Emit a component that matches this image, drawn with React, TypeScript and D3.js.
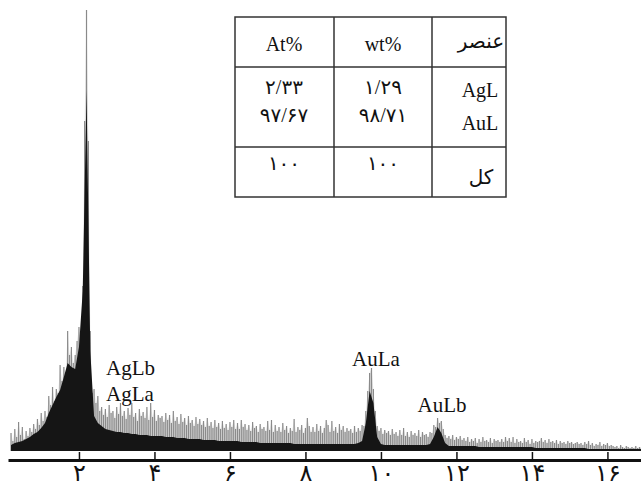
import React, { useEffect, useRef } from "react";
import * as d3 from "d3";

// energy axis (keV) and its Persian tick labels
const tickValues = [2, 4, 6, 8, 10, 12, 14, 16];
const tickLabels = ["۲", "۴", "۶", "۸", "۱۰", "۱۲", "۱۴", "۱۶"];

// spectrum channels start at 0.2 keV
const startKeV = 0.2;
const topStep = 0.05;
const bodyStep = 0.1;

// light grey spikes (upper envelope), one value per 0.05 keV
const topCounts = [
  18, 10, 22, 14, 29, 16, 24, 12, 20, 15, 23, 19, 27, 22, 32, 26, 38, 30, 40, 34,
  55, 46, 64, 50, 62, 58, 86, 70, 84, 76, 120, 96, 104, 88, 96, 110, 124, 115, 165, 330,
  441, 310, 120, 58, 62, 48, 55, 40, 44, 36, 42, 34, 46, 38, 40, 33, 44, 37, 48, 35,
  40, 32, 43, 36, 48, 34, 38, 30, 42, 35, 39, 33, 44, 31, 48, 34, 41, 30, 36, 33,
  35, 29, 38, 31, 36, 28, 40, 30, 34, 27, 37, 29, 33, 26, 35, 28, 31, 25, 34, 27,
  32, 26, 30, 24, 33, 25, 29, 23, 31, 24, 28, 22, 30, 23, 27, 21, 29, 24, 31, 22,
  28, 22, 31, 24, 27, 21, 26, 20, 29, 23, 25, 19, 27, 22, 24, 20, 30, 21, 31, 19,
  26, 20, 24, 19, 28, 21, 25, 18, 23, 20, 32, 19, 24, 21, 26, 18, 23, 33, 25, 19,
  24, 19, 27, 20, 25, 18, 23, 31, 26, 19, 30, 20, 24, 18, 27, 21, 25, 19, 23, 20,
  22, 18, 25, 19, 23, 20, 26, 25, 40, 60, 78, 83, 62, 40, 25, 20, 23, 17, 21, 18,
  20, 16, 22, 17, 19, 15, 21, 16, 23, 15, 19, 14, 20, 16, 18, 15, 21, 14, 19, 16,
  17, 14, 19, 18, 26, 24, 33, 28, 30, 22, 16, 13, 15, 12, 16, 11, 14, 12, 15, 11,
  13, 10, 14, 9, 12, 10, 13, 8, 12, 9, 14, 10, 11, 9, 13, 8, 12, 10, 11, 9,
  12, 9, 14, 10, 13, 9, 14, 8, 12, 9, 10, 8, 13, 9, 11, 7, 12, 8, 10, 9,
  10, 13, 9, 11, 8, 12, 9, 10, 8, 11, 7, 10, 8, 9, 7, 10, 8, 9, 7, 8,
  9, 7, 8, 6, 9, 7, 10, 6, 8, 5, 7, 6, 9, 5, 7, 6, 8, 5, 6, 5,
  4, 5, 3, 6, 4, 3, 5, 4, 3, 4, 3, 5, 3, 4, 3,
];

// dense black body of the spectrum, one value per 0.1 keV
const bodyCounts = [
  6, 8, 9, 10, 12, 14, 17, 19, 23, 28,
  38, 46, 54, 61, 74, 88, 84, 82, 104, 160,
  360, 100, 35, 28, 25, 22, 21, 20, 19, 19,
  18, 18, 17, 17, 16, 16, 16, 15, 15, 15,
  15, 14, 14, 14, 13, 13, 13, 12, 12, 12,
  12, 11, 11, 11, 11, 10, 10, 10, 10, 10,
  10, 9, 9, 9, 9, 9, 8, 8, 8, 8,
  8, 8, 8, 8, 8, 7, 7, 7, 7, 7,
  7, 7, 7, 7, 7, 7, 7, 7, 7, 7,
  7, 7, 8, 10, 28, 60, 48, 14, 7, 6,
  6, 6, 6, 6, 6, 6, 6, 6, 6, 6,
  6, 7, 14, 24, 18, 8, 5, 5, 5, 5,
  5, 5, 5, 5, 4, 4, 4, 4, 4, 4,
  4, 4, 4, 4, 4, 4, 4, 4, 4, 3,
  3, 3, 3, 3, 3, 3, 3, 3, 3, 3,
  3, 3, 3, 2, 2, 2, 2, 2, 2, 2,
  2, 2, 2, 2, 2, 2, 2, 2,
];

// composition table
const tableHeaders = ["At%", "wt%", "عنصر"];
const elements = ["AgL", "AuL"];
const atPercent = ["۲/۳۳", "۹۷/۶۷"];
const wtPercent = ["۱/۲۹", "۹۸/۷۱"];
const totals = ["۱۰۰", "۱۰۰", "کل"];

const font = "'Liberation Serif', 'DejaVu Sans', serif";

export default function App() {
  const axisRef = useRef<SVGGElement>(null);

  const x = d3.scaleLinear().domain([0.12, 16.9]).range([8, 641.4]);
  const y = d3.scaleLinear().domain([0, 441]).range([451, 10]);

  const topArea = d3
    .area<number>()
    .x((d, i) => x(startKeV + i * topStep))
    .y0(y(0))
    .y1((d) => y(d));

  const bodyArea = d3
    .area<number>()
    .x((d, i) => x(startKeV + i * bodyStep))
    .y0(y(0))
    .y1((d) => y(d));

  useEffect(() => {
    const g = d3.select(axisRef.current);
    const axis = d3
      .axisBottom(x)
      .tickValues(tickValues)
      .tickFormat((d, i) => tickLabels[i])
      .tickSizeInner(-8)
      .tickSizeOuter(0)
      .tickPadding(4);
    g.attr("transform", "translate(0,460)").call(axis);
    g.select(".domain").attr("stroke", "#111").attr("stroke-width", 3);
    g.selectAll(".tick line").attr("stroke", "#111").attr("stroke-width", 1.5);
    g.selectAll(".tick text")
      .attr("fill", "#111")
      .attr("font-family", font)
      .attr("font-size", 24);
  }, []);

  // table geometry
  const tx = [235, 334, 432, 506];
  const ty = [17, 67, 147, 197];

  return (
    <svg
      width={641}
      height={490}
      style={{ position: "absolute", left: 0, top: 0, background: "#fff" }}
    >
      <path d={topArea(topCounts) ?? ""} fill="#e4e4e4" />
      <g stroke="#8a8a8a" strokeWidth={1.2}>
        {topCounts.map((d, i) => (
          <line
            key={i}
            x1={x(startKeV + i * topStep)}
            x2={x(startKeV + i * topStep)}
            y1={y(0)}
            y2={y(d)}
          />
        ))}
      </g>
      <path d={bodyArea(bodyCounts) ?? ""} fill="#151515" />
      <g ref={axisRef} />

      <g fontFamily={font} fontSize={21} fill="#111">
        <text x={106} y={375}>AgLb</text>
        <text x={106} y={401}>AgLa</text>
        <text x={376} y={366} textAnchor="middle">AuLa</text>
        <text x={442} y={412} textAnchor="middle">AuLb</text>
      </g>

      <g stroke="#333" strokeWidth={1.5} fill="none">
        <rect x={tx[0]} y={ty[0]} width={tx[3] - tx[0]} height={ty[3] - ty[0]} />
        <line x1={tx[1]} x2={tx[1]} y1={ty[0]} y2={ty[3]} />
        <line x1={tx[2]} x2={tx[2]} y1={ty[0]} y2={ty[3]} />
        <line x1={tx[0]} x2={tx[3]} y1={ty[1]} y2={ty[1]} />
        <line x1={tx[0]} x2={tx[3]} y1={ty[2]} y2={ty[2]} />
      </g>
      <g fontFamily={font} fontSize={20} fill="#111" textAnchor="middle">
        <text x={284} y={51}>{tableHeaders[0]}</text>
        <text x={383} y={51}>{tableHeaders[1]}</text>
        <text x={481} y={48}>{tableHeaders[2]}</text>
        <text x={284} y={94}>{atPercent[0]}</text>
        <text x={284} y={122}>{atPercent[1]}</text>
        <text x={383} y={94}>{wtPercent[0]}</text>
        <text x={383} y={122}>{wtPercent[1]}</text>
        <text x={480} y={97}>{elements[0]}</text>
        <text x={480} y={130}>{elements[1]}</text>
        <text x={284} y={170}>{totals[0]}</text>
        <text x={383} y={170}>{totals[1]}</text>
        <text x={481} y={184}>{totals[2]}</text>
      </g>
    </svg>
  );
}
